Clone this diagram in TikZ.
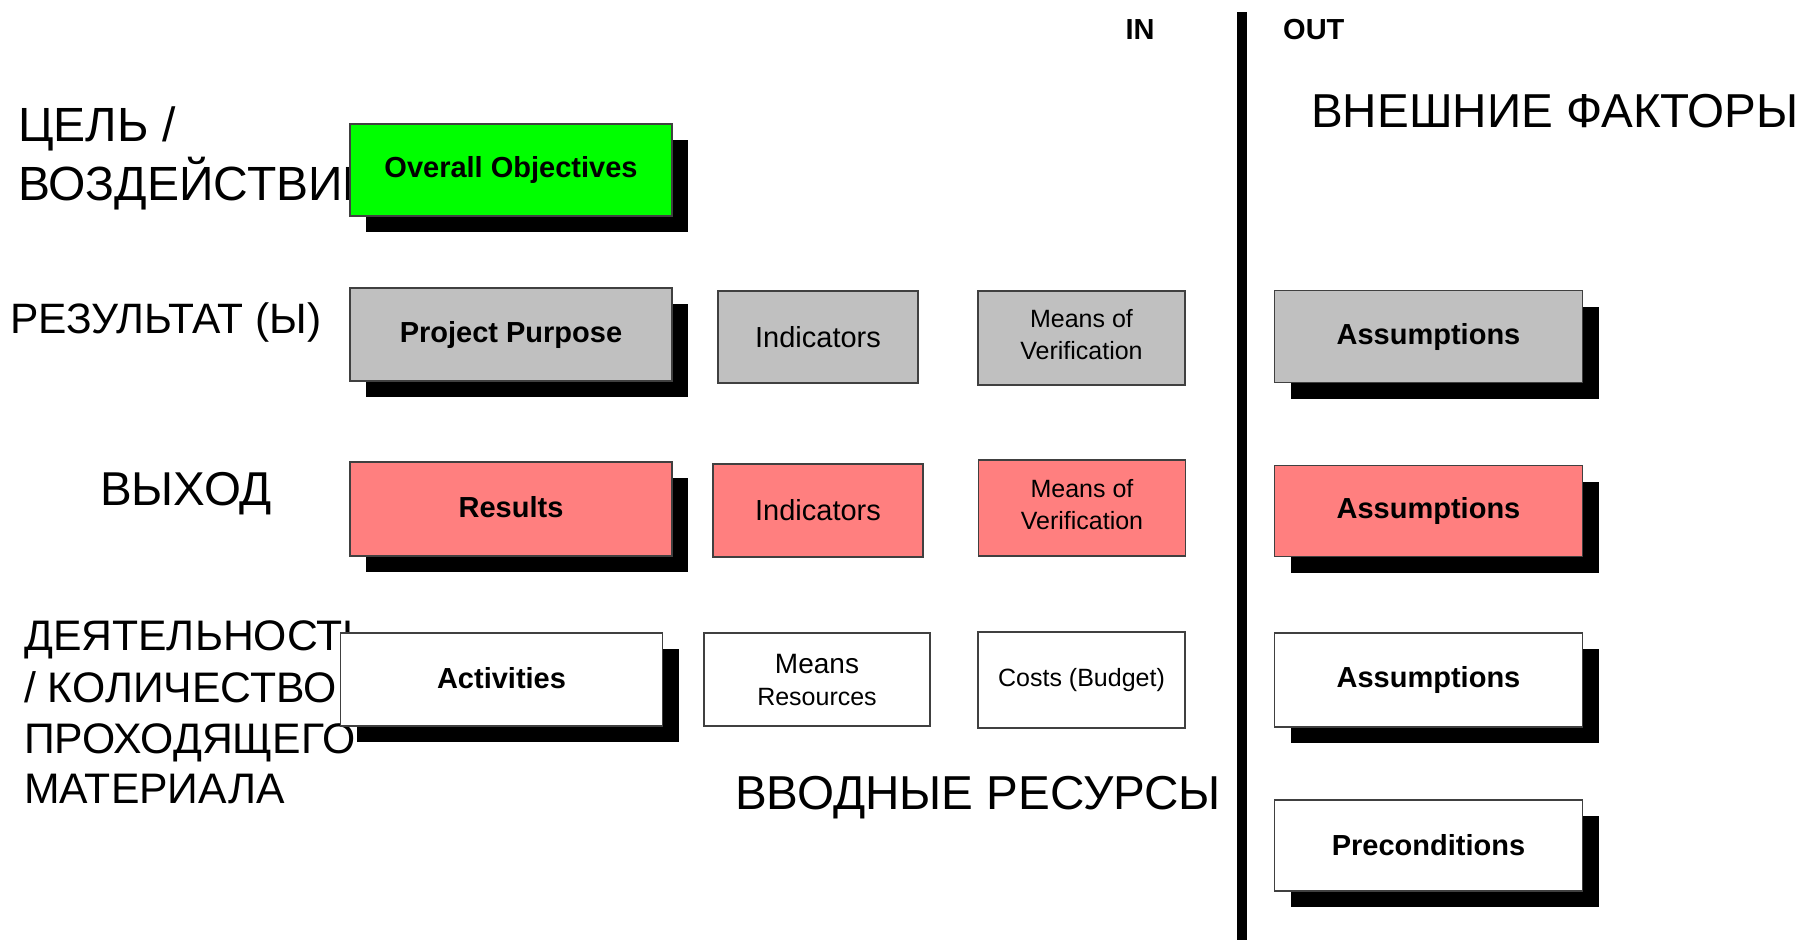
\documentclass[tikz,border=0pt]{standalone}
\usepackage{fontspec}
\setmainfont{Liberation Sans}
\usetikzlibrary{shadows}
\definecolor{pinkbox}{HTML}{FF7F7F}
\definecolor{graybox}{HTML}{C0C0C0}
\definecolor{greenbox}{HTML}{00FF00}
\definecolor{boxline}{HTML}{404040}
\begin{document}
\begin{tikzpicture}[x=1pt,y=-1pt,
  box/.style={draw=boxline, line width=1.2pt, inner sep=0pt, align=center, rectangle},
  shbox/.style={box, drop shadow={shadow xshift=16pt, shadow yshift=-16pt, opacity=1, fill=black}},
  bigtxt/.style={anchor=base west, inner sep=0pt},
  boldtxt/.style={font=\fontsize{29}{34}\selectfont\bfseries},
  regtxt/.style={font=\fontsize{29}{34}\selectfont},
  smalltxt/.style={font=\fontsize{25}{32}\selectfont}
]
\useasboundingbox (0,0) rectangle (1802,940);
\fill[white] (0,0) rectangle (1802,940);

% left labels (drawn first, boxes cover their ends)
\node[bigtxt, font=\fontsize{48}{58}\selectfont] (t1a) at (18,141) {ЦЕЛЬ /};
\node[bigtxt, font=\fontsize{48}{58}\selectfont] (t1b) at (18,200) {ВОЗДЕЙСТВИЕ};
\node[bigtxt, font=\fontsize{42.5}{50}\selectfont] (t2) at (10,333) {РЕЗУЛЬТАТ (Ы)};
\node[bigtxt, font=\fontsize{47.5}{56}\selectfont] (t3) at (100,505) {ВЫХОД};
\node[bigtxt, font=\fontsize{42.7}{51}\selectfont] (t4a) at (24,650) {ДЕЯТЕЛЬНОСТЬ};
\node[bigtxt, font=\fontsize{42.7}{51}\selectfont] (t4b) at (24,702) {/ КОЛИЧЕСТВО};
\node[bigtxt, font=\fontsize{42.7}{51}\selectfont] (t4c) at (24,753) {ПРОХОДЯЩЕГО};
\node[bigtxt, font=\fontsize{42.7}{51}\selectfont] (t4d) at (24,803) {МАТЕРИАЛА};
\node[bigtxt, font=\fontsize{47.6}{56}\selectfont] (ext) at (1311,127) {ВНЕШНИЕ ФАКТОРЫ};
\node[bigtxt, font=\fontsize{47.6}{56}\selectfont] (inp) at (735,809) {ВВОДНЫЕ РЕСУРСЫ};

\node[boldtxt, anchor=base, inner sep=0pt] (in) at (1140,39) {IN};
\node[boldtxt, anchor=base west, inner sep=0pt] (out) at (1283,39) {OUT};

% divider
\coordinate (dtop) at (1242,12);
\coordinate (dbot) at (1242,940);
\draw[line width=10pt] (dtop) -- (dbot);

% first column (with shadows)
\node[shbox, fill=greenbox, minimum width=322pt, minimum height=92pt, boldtxt] (oo) at (511,170) {Overall Objectives};
\node[shbox, fill=graybox, minimum width=322pt, minimum height=93pt, boldtxt] (pp) at (511,334.5) {Project Purpose};
\node[shbox, fill=pinkbox, minimum width=322pt, minimum height=94pt, boldtxt] (res) at (511,509) {Results\rule[-5pt]{0pt}{0pt}};
\node[shbox, fill=white, minimum width=322pt, minimum height=93pt, boldtxt] (act) at (501.5,679.5) {Activities\rule[-4pt]{0pt}{0pt}};

% indicators column
\node[box, fill=graybox, minimum width=200pt, minimum height=92pt, regtxt] (ind1) at (818,337) {Indicators};
\node[box, fill=pinkbox, minimum width=210pt, minimum height=93pt, regtxt] (ind2) at (818,510.5) {Indicators};
\node[box, fill=white, minimum width=226pt, minimum height=93pt, font=\fontsize{25}{32}\selectfont] (mres) at (817,679.5) {{\fontsize{28}{32}\selectfont Means}\\{\fontsize{25}{32}\selectfont Resources}};

% verification column
\node[box, fill=graybox, minimum width=207pt, minimum height=94pt, smalltxt] (mov1) at (1081.5,338) {Means of\\Verification\rule[-7pt]{0pt}{0pt}};
\node[box, fill=pinkbox, minimum width=207pt, minimum height=96pt, smalltxt] (mov2) at (1082,508) {Means of\\Verification\rule[-7pt]{0pt}{0pt}};
\node[box, fill=white, minimum width=207pt, minimum height=96pt, smalltxt] (cost) at (1081.5,680) {Costs (Budget)};

% assumptions column
\node[shbox, fill=graybox, minimum width=308pt, minimum height=92pt, boldtxt] (as1) at (1428.5,336.5) {Assumptions};
\node[shbox, fill=pinkbox, minimum width=308pt, minimum height=91pt, boldtxt] (as2) at (1428.5,511) {Assumptions};
\node[shbox, fill=white, minimum width=308pt, minimum height=94pt, boldtxt] (as3) at (1428.5,680) {Assumptions};
\node[shbox, fill=white, minimum width=308pt, minimum height=91pt, boldtxt] (pre) at (1428.5,845.5) {Preconditions};
\end{tikzpicture}
\end{document}
